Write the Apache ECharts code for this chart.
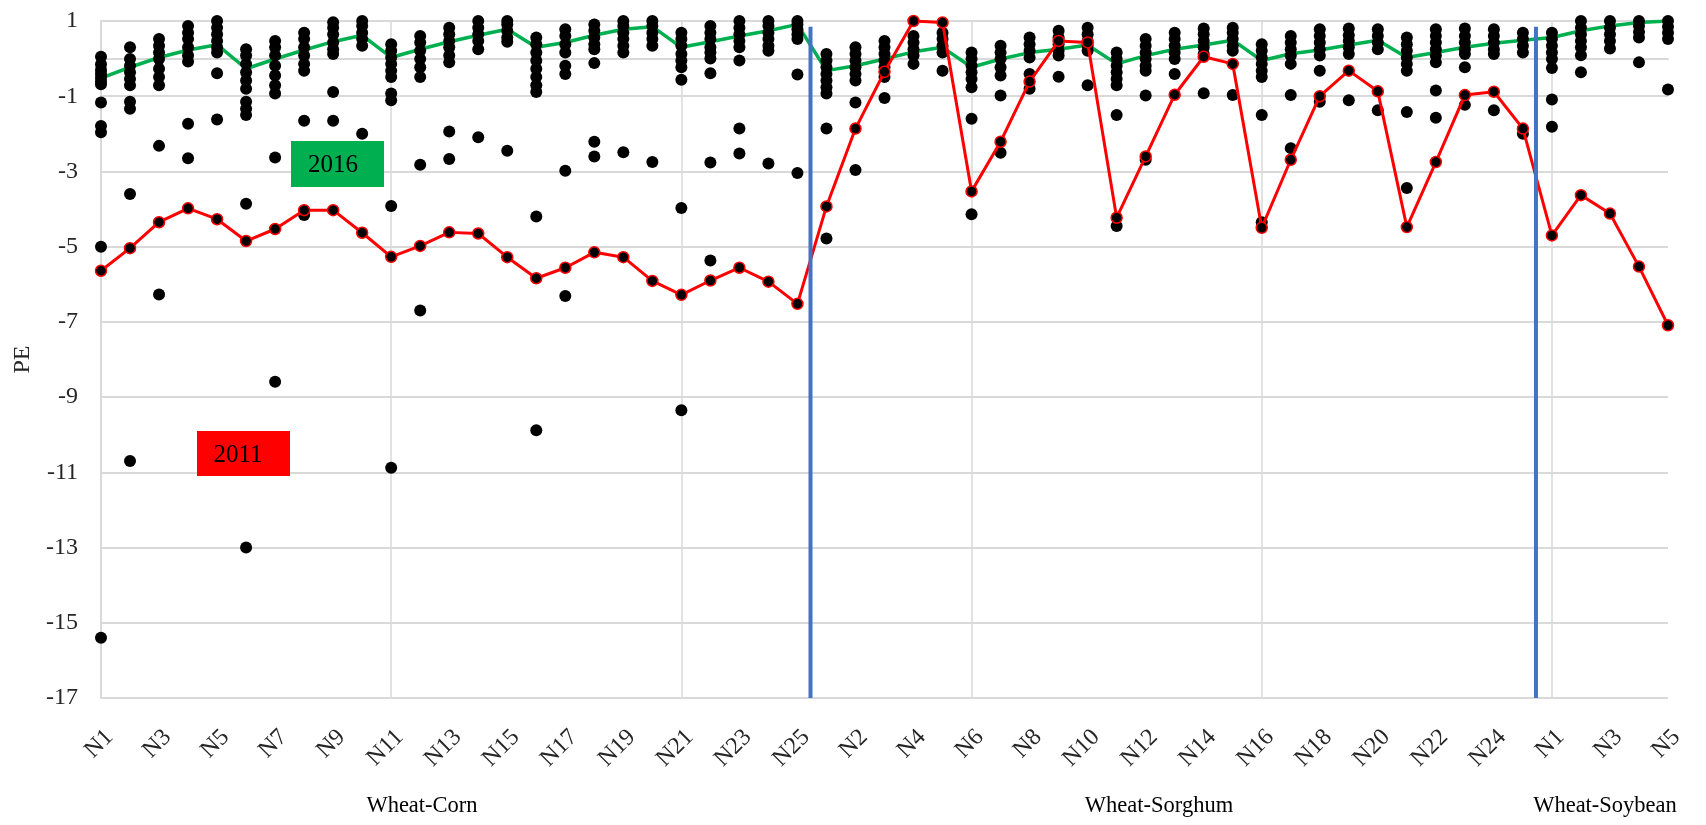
<!DOCTYPE html>
<html><head><meta charset="utf-8">
<script src="https://cdn.jsdelivr.net/npm/echarts@6/dist/echarts.min.js"></script>
<style>html,body{margin:0;padding:0;background:#fff}#c{width:1706px;height:825px}</style>
</head><body><div id="c"></div>
<script>
// ---- categories (x tick labels) ----
const categories = [
  'N1','N2','N3','N4','N5','N6','N7','N8','N9','N10','N11','N12','N13','N14','N15','N16','N17','N18','N19','N20','N21','N22','N23','N24','N25',
  'N1','N2','N3','N4','N5','N6','N7','N8','N9','N10','N11','N12','N13','N14','N15','N16','N17','N18','N19','N20','N21','N22','N23','N24','N25',
  'N1','N2','N3','N4','N5'
];
const groupLabels = ['Wheat-Corn', 'Wheat-Sorghum', 'Wheat-Soybean'];
const yMin = -17, yMax = 1, yStep = 2;

// ---- 2016 line (green) ----
const pe2016 = [
  -0.52,-0.23,0.03,0.23,0.37,-0.27,-0.01,0.23,0.45,0.62,0.03,0.25,0.45,0.62,0.78,0.30,0.43,0.62,0.78,0.85,0.30,0.45,0.60,0.74,0.91,
  -0.32,-0.19,-0.01,0.18,0.30,-0.23,-0.01,0.16,0.25,0.36,-0.14,0.08,0.25,0.36,0.49,-0.05,0.13,0.23,0.36,0.49,0.03,0.16,0.30,0.41,0.49,
  0.56,0.74,0.87,0.96,1.0
];
// ---- 2011 line (red) ----
const pe2011 = [
  -5.64,-5.04,-4.35,-3.98,-4.27,-4.85,-4.53,-4.03,-4.03,-4.63,-5.27,-4.98,-4.62,-4.65,-5.28,-5.84,-5.56,-5.15,-5.28,-5.91,-6.28,-5.90,-5.56,-5.93,-6.52,
  -3.93,-1.86,-0.35,1.0,0.96,-3.53,-2.21,-0.61,0.47,0.43,-4.23,-2.60,-0.96,0.05,-0.14,-4.50,-2.69,-1.00,-0.32,-0.87,-4.48,-2.75,-0.97,-0.88,-1.86,
  -4.70,-3.63,-4.12,-5.53,-7.09
];
// ---- other simulated years (black dots), one list per category ----
const simDots = [
  [0.05,-0.15,-0.3,-0.4,-0.5,-0.6,-0.68,-1.17,-1.79,-1.96,-5.0,-15.4],
  [0.30,-0.01,-0.19,-0.36,-0.54,-0.71,-1.15,-1.33,-3.6,-10.7],
  [0.52,0.34,0.16,-0.01,-0.27,-0.49,-0.71,-2.32,-6.27],
  [0.87,0.69,0.52,0.30,0.08,-0.08,-1.73,-2.65],
  [1.0,0.82,0.65,0.47,0.30,0.16,-0.39,-1.62],
  [0.25,0.08,-0.14,-0.36,-0.58,-0.80,-1.15,-1.33,-1.5,-3.86,-13.0],
  [0.47,0.30,0.08,-0.19,-0.45,-0.71,-0.93,-2.63,-8.59],
  [0.69,0.52,0.30,0.08,-0.14,-0.32,-1.65,-4.16],
  [0.97,0.82,0.65,0.43,0.25,0.12,-0.89,-1.65],
  [1.0,0.87,0.69,0.52,0.34,-2.0],
  [0.38,0.21,0.03,-0.14,-0.32,-0.49,-0.93,-1.11,-3.92,-10.88],
  [0.60,0.43,0.21,-0.01,-0.23,-0.49,-2.82,-6.7],
  [0.82,0.65,0.47,0.30,0.08,-0.10,-1.94,-2.67],
  [1.0,0.82,0.65,0.47,0.25,-2.09],
  [1.0,0.91,0.74,0.56,0.45,-2.45],
  [0.56,0.38,0.16,-0.05,-0.27,-0.49,-0.71,-0.89,-4.2,-9.88],
  [0.78,0.60,0.38,0.16,-0.19,-0.41,-2.98,-6.31],
  [0.91,0.74,0.56,0.38,0.25,-0.12,-2.21,-2.6],
  [1.0,0.87,0.69,0.52,0.34,0.16,-2.49],
  [1.0,0.87,0.69,0.52,0.34,-2.75],
  [0.69,0.52,0.34,0.12,-0.05,-0.23,-0.56,-3.97,-9.35],
  [0.87,0.69,0.52,0.30,0.16,0.0,-0.39,-2.76,-5.37],
  [1.0,0.82,0.65,0.47,0.30,-0.05,-1.86,-2.52],
  [1.0,0.87,0.69,0.52,0.34,0.21,-2.79],
  [1.0,0.91,0.78,0.65,0.52,-0.42,-3.04],
  [0.12,-0.05,-0.23,-0.41,-0.58,-0.76,-0.93,-1.86,-4.78],
  [0.30,0.12,-0.05,-0.23,-0.41,-0.58,-1.17,-2.96],
  [0.47,0.30,0.12,-0.05,-0.23,-0.49,-1.05],
  [0.60,0.43,0.25,0.08,-0.14],
  [0.69,0.52,0.34,0.16,-0.32],
  [0.16,-0.01,-0.19,-0.36,-0.54,-0.76,-1.6,-4.14],
  [0.34,0.16,-0.01,-0.23,-0.45,-0.98,-2.5],
  [0.56,0.38,0.21,0.03,-0.41,-0.8],
  [0.74,0.56,0.38,0.21,0.08,-0.48],
  [0.82,0.65,0.47,0.34,0.21,-0.71],
  [0.16,-0.01,-0.19,-0.36,-0.54,-0.71,-1.5,-4.45],
  [0.52,0.34,0.16,-0.01,-0.19,-0.32,-0.98,-2.69],
  [0.69,0.52,0.34,0.16,-0.01,-0.41],
  [0.80,0.65,0.47,0.30,0.12,-0.92],
  [0.82,0.69,0.52,0.34,0.21,-0.97],
  [0.38,0.21,0.03,-0.14,-0.32,-0.49,-1.5,-4.35],
  [0.60,0.43,0.25,0.08,-0.14,-0.97,-2.38],
  [0.78,0.60,0.43,0.25,0.08,-0.32,-1.15],
  [0.80,0.62,0.47,0.30,0.12,-1.11],
  [0.78,0.60,0.43,0.25,-1.37],
  [0.56,0.38,0.21,0.03,-0.14,-0.32,-1.42,-3.44],
  [0.78,0.60,0.43,0.25,0.08,-0.10,-0.85,-1.57],
  [0.80,0.60,0.43,0.25,0.12,-0.23,-1.23],
  [0.78,0.60,0.43,0.25,0.12,-1.37],
  [0.69,0.52,0.34,0.16,-2.0],
  [0.69,0.52,0.34,0.16,-0.01,-0.25,-1.09,-1.81],
  [1.0,0.82,0.65,0.47,0.30,0.09,-0.36],
  [1.0,0.82,0.65,0.47,0.27],
  [1.0,0.87,0.71,0.56,-0.1],
  [1.0,0.85,0.69,0.52,-0.82]
];
// ---- group divider positions (in category-index units) ----
const dividers = [24.45, 49.45];
const dividerTop = 0.85;

const FONT = '"Liberation Serif", "DejaVu Serif", serif';
const chart = echarts.init(document.getElementById('c'), null, {renderer: 'canvas'});

const dotData = [];
simDots.forEach((vals, i) => vals.forEach(v => dotData.push([i, v])));

const dividerSeries = dividers.map(x => ({
  type: 'line', xAxisIndex: 1, yAxisIndex: 0,
  data: [[x, dividerTop], [x, yMin]],
  symbol: 'none', silent: true, z: 6,
  lineStyle: {color: '#4472C4', width: 4}
}));

chart.setOption({
  animation: false,
  backgroundColor: '#fff',
  grid: {left: 101, right: 38, top: 21, bottom: 127, containLabel: false},
  xAxis: [{
    type: 'category', data: categories, boundaryGap: false,
    axisLine: {show: true, lineStyle: {color: '#D9D9D9', width: 2}},
    axisTick: {show: false},
    axisLabel: {interval: 1, rotate: 45, align: 'right', verticalAlign: 'top', margin: 27,
                fontFamily: FONT, fontSize: 24, color: '#262626'},
    splitLine: {show: true, interval: i => i % 10 === 0, lineStyle: {color: '#D9D9D9', width: 1.5}}
  }, {
    type: 'value', min: 0, max: categories.length - 1, show: false
  }],
  yAxis: {
    type: 'value', min: yMin, max: yMax, interval: yStep,
    name: 'PE', nameLocation: 'middle', nameGap: 58, nameRotate: 90,
    nameTextStyle: {fontFamily: FONT, fontSize: 24, color: '#262626'},
    axisLine: {show: true, lineStyle: {color: '#D9D9D9', width: 2}},
    axisTick: {show: false},
    axisLabel: {fontFamily: FONT, fontSize: 24, color: '#262626', margin: 23},
    splitLine: {show: true, lineStyle: {color: '#D9D9D9', width: 2}}
  },
  series: [
    {type: 'line', name: '2016', data: pe2016, symbol: 'none', z: 2,
     lineStyle: {color: '#00B050', width: 3.5}},
    {type: 'scatter', name: 'sim', data: dotData, symbolSize: 12, z: 3,
     itemStyle: {color: '#000', opacity: 1}},
    {type: 'line', name: '2011', data: pe2011, symbol: 'circle', symbolSize: 11, z: 4,
     lineStyle: {color: '#FF0000', width: 3},
     itemStyle: {color: '#000', borderColor: '#FF0000', borderWidth: 1.5, opacity: 1}}
  ].concat(dividerSeries),
  graphic: [
    {type: 'rect', shape: {x: 291, y: 141, width: 93, height: 46}, style: {fill: '#00B050'}, z: 10},
    {type: 'text', x: 333, y: 165, style: {text: '2016', font: '25px ' + FONT, fill: '#000', align: 'center', verticalAlign: 'middle'}, z: 11},
    {type: 'rect', shape: {x: 197, y: 431, width: 93, height: 45}, style: {fill: '#FF0000'}, z: 10},
    {type: 'text', x: 238, y: 455, style: {text: '2011', font: '25px ' + FONT, fill: '#000', align: 'center', verticalAlign: 'middle'}, z: 11},
    {type: 'text', x: 422, y: 806, style: {text: groupLabels[0], font: '22.5px ' + FONT, fill: '#000', align: 'center', verticalAlign: 'middle'}},
    {type: 'text', x: 1159, y: 806, style: {text: groupLabels[1], font: '22.5px ' + FONT, fill: '#000', align: 'center', verticalAlign: 'middle'}},
    {type: 'text', x: 1605, y: 806, style: {text: groupLabels[2], font: '22.5px ' + FONT, fill: '#000', align: 'center', verticalAlign: 'middle'}}
  ]
});
</script>
</body></html>
